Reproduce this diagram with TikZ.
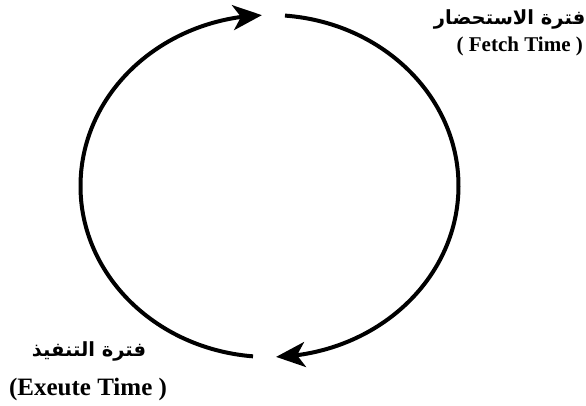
\documentclass[tikz,border=0pt]{standalone}
\usepackage{fontspec}
\setmainfont{Liberation Serif}
\newfontfamily\arabicfont[Script=Arabic]{DejaVu Sans}
\TeXXeTstate=1
\usetikzlibrary{arrows.meta,bending}

\begin{document}
\begin{tikzpicture}[x=1pt, y=1pt,
        phase/.style={draw, line width=4pt, -{Stealth[length=29pt, width=25pt, inset=8pt, flex]}},
        latinlabel/.style={font=\bfseries\fontsize{21}{24}\selectfont, inner sep=0pt},
        arabiclabel/.style={font=\arabicfont\bfseries\fontsize{19.5}{24}\selectfont, inner sep=0pt}
    ]
        \useasboundingbox (0,0) rectangle (586,405);
        % Nodes
        \coordinate (centre) at (269.5,219);

        \node [arabiclabel, anchor=east] (fetchar) at (585.5,386) {\beginR فترة الاستحضار\endR};
        \node [latinlabel, anchor=east] (fetchen) at (583,359) {( Fetch Time )};

        \node [arabiclabel] (execar) at (89,54) {\beginR فترة التنفيذ\endR};
        \node [latinlabel, font=\bfseries\fontsize{25}{28}\selectfont] (execen) at (88,16) {(Exeute Time )};

        % Connections
        \path [phase] ([shift={(85.3:189 and 171)}]centre) arc [start angle=85.3, end angle=-88, x radius=189, y radius=171];
        \path [phase] ([shift={(265:189 and 171)}]centre) arc [start angle=265, end angle=92.3, x radius=189, y radius=171];

    \end{tikzpicture}
\end{document}
